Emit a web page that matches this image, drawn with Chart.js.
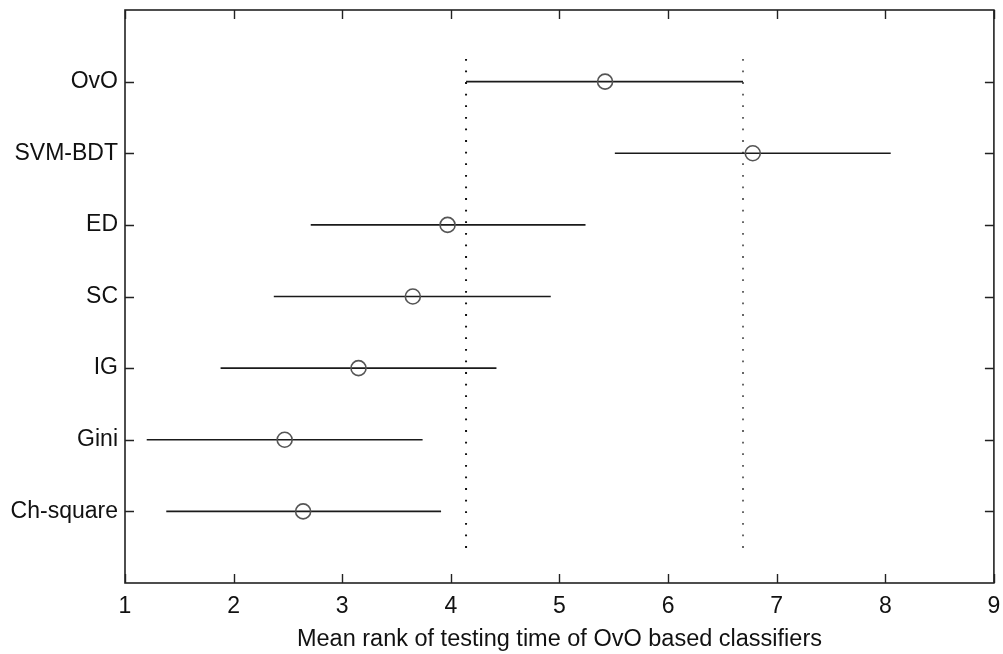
<!DOCTYPE html>
<html>
<head>
<meta charset="utf-8">
<script src="https://cdn.jsdelivr.net/npm/chart.js@4.4.1/dist/chart.umd.min.js"></script>
<style>
  html, body { margin: 0; padding: 0; background: #fff; }
  #wrap { width: 1003px; height: 654px; }
</style>
</head>
<body>
<div id="wrap"><canvas id="rankChart"></canvas></div>
<script>
// data (top to bottom in the plot)
const classifiers = ['OvO', 'SVM-BDT', 'ED', 'SC', 'IG', 'Gini', 'Ch-square'];
const meanRank = [5.42, 6.78, 3.97, 3.65, 3.15, 2.47, 2.64];
const lowerRank = [4.14, 5.51, 2.71, 2.37, 1.88, 1.20, 1.38];
const upperRank = [6.69, 8.05, 5.24, 4.92, 4.42, 3.74, 3.91];
const criticalLines = [4.14, 6.69];
const xTicks = [1, 2, 3, 4, 5, 6, 7, 8, 9];

const n = classifiers.length;
const rowY = i => n - i;   // OvO at 7, Ch-square at 1
const FONT = 'Liberation Sans, Arial, sans-serif';

const datasets = [];
// interval lines
classifiers.forEach((c, i) => {
  datasets.push({
    type: 'line',
    data: [{ x: lowerRank[i], y: rowY(i) }, { x: upperRank[i], y: rowY(i) }],
    borderColor: '#1a1a1a',
    borderWidth: 1.7,
    pointRadius: 0,
    order: 2
  });
});
// dotted reference lines
criticalLines.forEach((v, k) => {
  datasets.push({
    type: 'line',
    data: [{ x: v, y: 0.49 }, { x: v, y: 7.45 }],
    borderColor: k === 0 ? '#111' : '#666',
    borderWidth: 2,
    borderDash: [1.8, 9.8],
    pointRadius: 0,
    order: 3
  });
});
// mean markers
datasets.push({
  type: 'scatter',
  data: meanRank.map((m, i) => ({ x: m, y: rowY(i) })),
  pointStyle: 'circle',
  pointRadius: 7.5,
  pointBorderWidth: 1.6,
  pointBorderColor: '#555',
  pointBackgroundColor: 'rgba(255,255,255,0)',
  order: 1
});

// inward ticks on all four sides
const innerTicks = {
  id: 'innerTicks',
  afterDraw(chart) {
    const { ctx, chartArea: a, scales: { x, y } } = chart;
    const len = 9;
    ctx.save();
    ctx.strokeStyle = '#222';
    ctx.lineWidth = 1.4;
    ctx.beginPath();
    xTicks.forEach(v => {
      const px = Math.round(x.getPixelForValue(v)) + 0.5;
      ctx.moveTo(px, a.bottom); ctx.lineTo(px, a.bottom - len);
      ctx.moveTo(px, a.top); ctx.lineTo(px, a.top + len);
    });
    classifiers.forEach((c, i) => {
      const py = Math.round(y.getPixelForValue(rowY(i))) + 0.5;
      ctx.moveTo(a.left, py); ctx.lineTo(a.left + len, py);
      ctx.moveTo(a.right, py); ctx.lineTo(a.right - len, py);
    });
    ctx.stroke();
    ctx.lineWidth = 1.6;
    ctx.strokeRect(a.left, a.top, a.right - a.left, a.bottom - a.top);
    ctx.restore();
  }
};

const config = {
  data: { datasets },
  options: {
    responsive: true,
    maintainAspectRatio: false,
    animation: false,
    layout: { padding: { top: 10, right: 9, left: 0, bottom: 0 } },
    plugins: { legend: { display: false }, tooltip: { enabled: false } },
    scales: {
      x: {
        type: 'linear',
        min: 1,
        max: 9,
        afterBuildTicks: s => { s.ticks = xTicks.map(v => ({ value: v })); },
        afterFit: s => { s.height = 71; s.paddingLeft = 0; s.paddingRight = 0; },
        grid: { display: false, drawTicks: false },
        border: { display: false },
        ticks: {
          color: '#111',
          padding: 10,
          maxRotation: 0,
          autoSkip: false,
          font: { family: FONT, size: 23 }
        },
        title: {
          display: true,
          text: 'Mean rank of testing time of OvO based classifiers',
          color: '#111',
          padding: { top: 1, bottom: 0 },
          font: { family: FONT, size: 23.5 }
        }
      },
      y: {
        type: 'linear',
        min: 0,
        max: 8,
        afterBuildTicks: s => { s.ticks = classifiers.map((c, i) => ({ value: rowY(i) })); },
        afterFit: s => { s.width = 125; s.paddingTop = 0; s.paddingBottom = 0; },
        grid: { display: false, drawTicks: false },
        border: { display: false },
        ticks: {
          color: '#111',
          padding: 7,
          autoSkip: false,
          callback: v => classifiers[n - v],
          font: { family: FONT, size: 23 }
        }
      }
    }
  },
  plugins: [innerTicks]
};

const rankChart = new Chart(document.getElementById('rankChart'), config);
</script>
</body>
</html>
